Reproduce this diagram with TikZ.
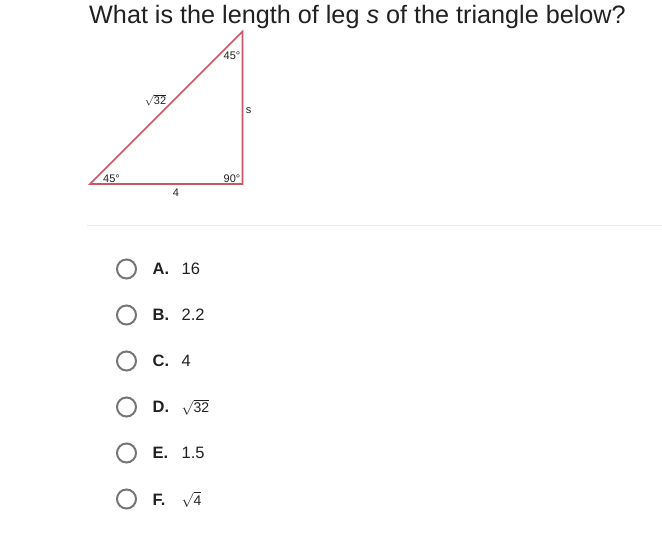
\documentclass[tikz,border=0pt]{standalone}
\usepackage{fontspec}
\setmainfont{Liberation Sans}
\usetikzlibrary{positioning}
\definecolor{triline}{RGB}{204,86,102}
\definecolor{radiogray}{RGB}{117,117,117}
\definecolor{sepgray}{RGB}{235,235,235}
\definecolor{textdark}{RGB}{33,33,33}

\begin{document}
\begin{tikzpicture}[x=1pt,y=-1pt,
  trilabel/.style={font=\fontsize{11}{13}\selectfont,text=textdark,inner sep=0pt},
  radio/.style={draw=radiogray,line width=2pt,circle,minimum size=19pt,inner sep=0pt},
  optletter/.style={font=\fontsize{16.5}{19}\selectfont\bfseries,text=textdark,anchor=base west,inner sep=0pt},
  optvalue/.style={font=\fontsize{16.5}{19}\selectfont,text=textdark,anchor=base west,inner sep=0pt}]
\useasboundingbox[fill=white] (0,0) rectangle (662,537);

% question
\node[font=\fontsize{25.2}{30}\selectfont,text=textdark,anchor=base west,inner sep=0pt] (question) at (89,24) {What is the length of leg \textit{s} of the triangle below?};

% triangle
\coordinate (A) at (90,184);
\coordinate (B) at (242.5,184);
\coordinate (C) at (242.5,31.5);
\draw[triline,line width=1.6pt] (A) -- (B) -- (C) -- cycle;
\node[trilabel] (topangle) at (232,56) {45°};
\node[trilabel] (hyp) at (155.5,100) {$\sqrt{\mbox{32}}$};
\node[trilabel] (legs) at (248.5,110.5) {s};
\node[trilabel] (leftangle) at (111.5,179) {45°};
\node[trilabel] (rightangle) at (232,178.5) {90°};
\node[trilabel] (base) at (176,193) {4};

% separator
\draw[sepgray,line width=1.5pt] (87,225.5) -- (662,225.5);

% answers
\node[radio] (ra) at (126.5,269) {};
\node[optletter] (la) at (152.5,275) {A.};
\node[optvalue] (va) at (181.5,275) {16};

\node[radio] (rb) at (126.5,315) {};
\node[optletter] (lb) at (152.5,321) {B.};
\node[optvalue] (vb) at (181.5,321) {2.2};

\node[radio] (rc) at (126.5,361) {};
\node[optletter] (lc) at (152.5,367) {C.};
\node[optvalue] (vc) at (181.5,367) {4};

\node[radio] (rd) at (126.5,407) {};
\node[optletter] (ld) at (152.5,413) {D.};
\node[optvalue,font=\fontsize{14}{16}\selectfont] (vd) at (181.5,413) {$\sqrt{\mbox{32}}$};

\node[radio] (re) at (126.5,453) {};
\node[optletter] (le) at (152.5,459) {E.};
\node[optvalue] (ve) at (181.5,459) {1.5};

\node[radio] (rf) at (126.5,499) {};
\node[optletter] (lf) at (152.5,505) {F.};
\node[optvalue,font=\fontsize{14}{16}\selectfont] (vf) at (181.5,505) {$\sqrt{\mbox{4}}$};

\end{tikzpicture}
\end{document}
